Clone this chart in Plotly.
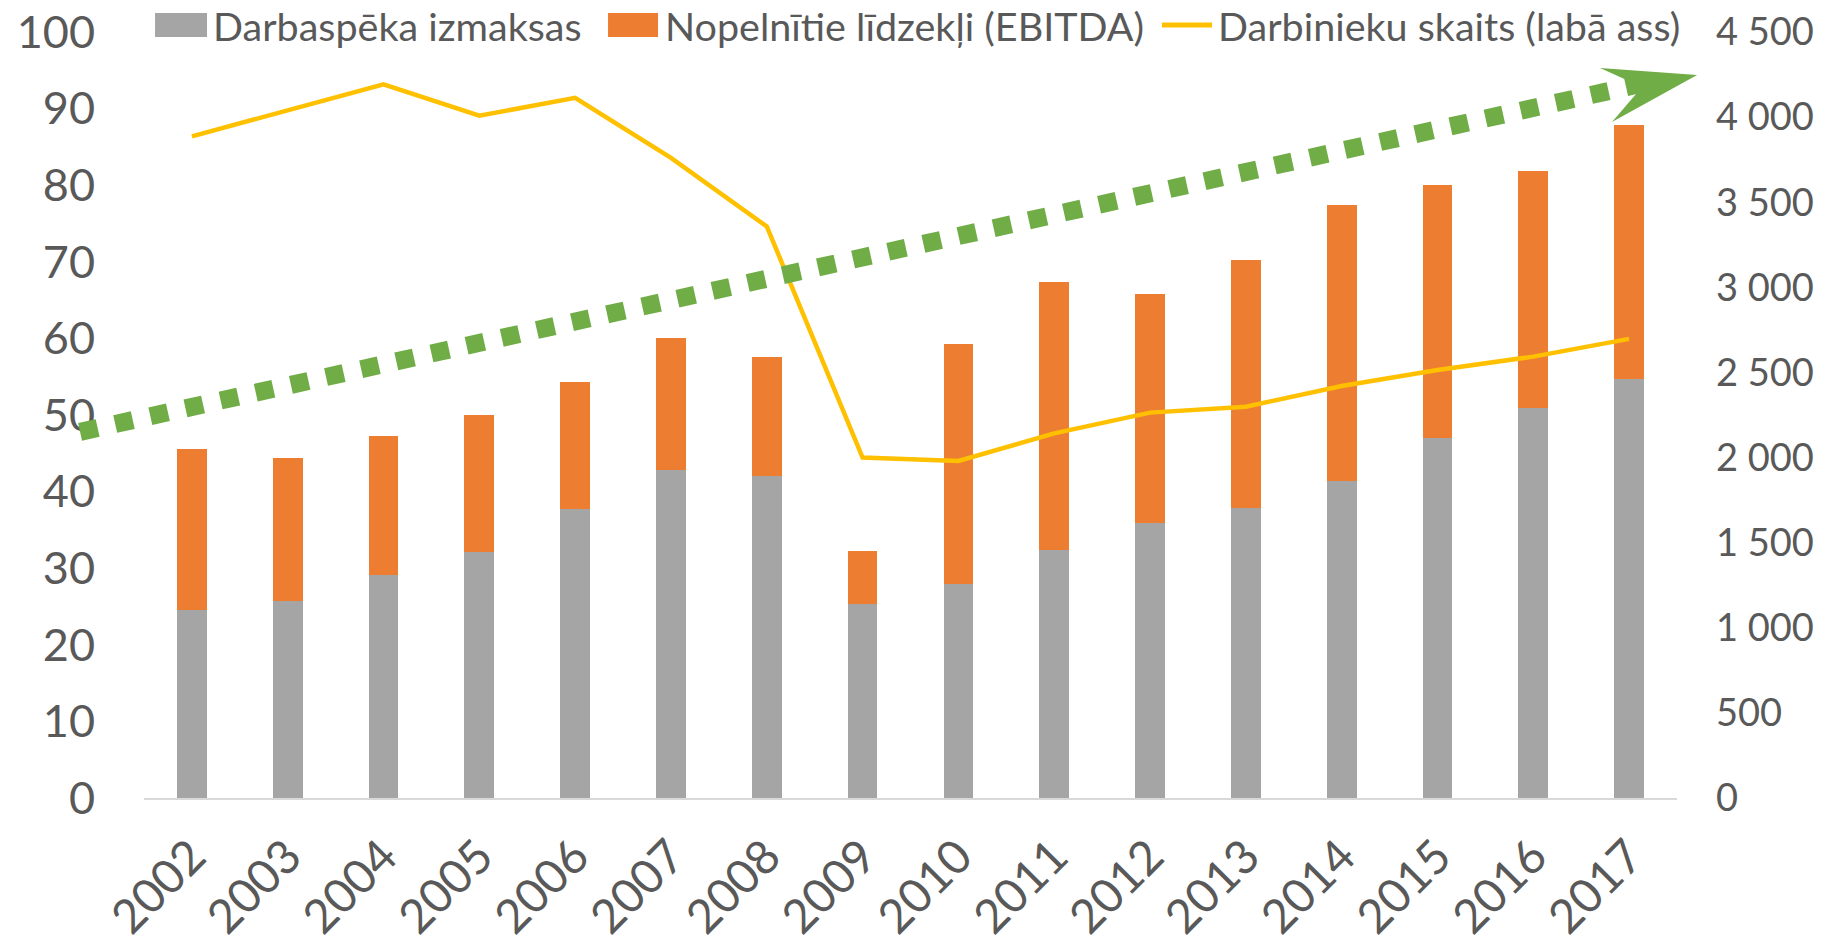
import plotly.graph_objects as go

years = [str(y) for y in range(2002, 2018)]
labor_costs = [24.5, 25.7, 29.1, 32.1, 37.7, 42.8, 42.1, 25.3, 28.0, 32.4, 35.9, 37.9, 41.4, 47.0, 50.9, 54.7]
ebitda = [21.0, 18.7, 18.2, 17.9, 16.6, 17.3, 15.5, 6.9, 31.3, 34.9, 29.9, 32.3, 36.0, 33.0, 31.0, 33.2]
employees = [3887, 4040, 4193, 4008, 4113, 3760, 3358, 2000, 1980, 2142, 2264, 2299, 2420, 2514, 2593, 2697]

left_ticks = list(range(0, 101, 10))
right_ticks = list(range(0, 4501, 500))

names = ["Darbaspēka izmaksas", "Nopelnītie līdzekļi (EBITDA)", "Darbinieku skaits (labā ass)"]

GRAY = "#A5A5A5"
ORANGE = "#ED7D31"
YELLOW = "#FFC000"
GREEN = "#70AD47"
TEXT = "#595959"
FONT = "Lato"

fig = go.Figure()
fig.add_trace(go.Bar(x=years, y=labor_costs, name=names[0], marker=dict(color=GRAY, line=dict(width=0))))
fig.add_trace(go.Bar(x=years, y=ebitda, name=names[1], marker=dict(color=ORANGE, line=dict(width=0))))
fig.add_trace(go.Scatter(x=years, y=employees, name=names[2], mode="lines", yaxis="y2",
                         line=dict(color=YELLOW, width=4.5)))

shapes = []
annotations = []

# trend arrow (decoration, paper coordinates)
arrow_start = (-0.0417, 0.478)
arrow_end = (0.9791, 0.9334)
shapes.append(dict(type="line", xref="paper", yref="paper",
                   x0=arrow_start[0], y0=arrow_start[1], x1=arrow_end[0], y1=arrow_end[1],
                   line=dict(color=GREEN, width=18, dash="dot")))
head = [(1.0131, 0.9439), (0.9498, 0.9530), (0.9772, 0.9282), (0.9576, 0.8825)]
path = "M " + " L ".join(f"{x},{y}" for x, y in head) + " Z"
shapes.append(dict(type="path", xref="paper", yref="paper", path=path,
                   fillcolor=GREEN, line=dict(width=0)))

# legend
ly = 1.0091
shapes.append(dict(type="rect", xref="paper", yref="paper", x0=0.0072, x1=0.0411,
                   y0=ly - 0.0157, y1=ly + 0.0157, fillcolor=GRAY, line=dict(width=0)))
shapes.append(dict(type="rect", xref="paper", yref="paper", x0=0.3027, x1=0.3353,
                   y0=ly - 0.0157, y1=ly + 0.0157, fillcolor=ORANGE, line=dict(width=0)))
shapes.append(dict(type="line", xref="paper", yref="paper", x0=0.664, x1=0.6967,
                   y0=ly, y1=ly, line=dict(color=YELLOW, width=5)))
for x, t in zip([0.0440, 0.3385, 0.6990], names):
    annotations.append(dict(xref="paper", yref="paper", x=x, y=ly, text=t, showarrow=False,
                            xanchor="left", yanchor="middle",
                            font=dict(family=FONT, size=39.5, color=TEXT)))

fig.update_layout(
    width=1827, height=949,
    margin=dict(l=144, r=150, t=32, b=151),
    plot_bgcolor="white", paper_bgcolor="white",
    barmode="stack", bargap=0.69,
    showlegend=False,
    separators=". ",
    font=dict(family=FONT, color=TEXT),
    shapes=shapes, annotations=annotations,
    xaxis=dict(range=[-0.5, 15.5], tickangle=-45, tickfont=dict(size=47, color=TEXT),
               showline=True, linecolor="#D9D9D9", linewidth=2, showgrid=False,
               ticks="", ticklabelstandoff=10, automargin=False),
    yaxis=dict(range=[0, 100], tickvals=left_ticks, tickfont=dict(size=45, color=TEXT),
               showgrid=False, zeroline=False, showline=False, ticks="", ticklabelstandoff=48,
               automargin=False),
    yaxis2=dict(range=[0, 4500], tickvals=right_ticks, tickformat=",d", overlaying="y", side="right",
                tickfont=dict(size=38, color=TEXT), showgrid=False, zeroline=False,
                showline=False, ticks="", ticklabelstandoff=38, automargin=False),
)

fig.write_html("out.html", config={"displayModeBar": False},
               post_script="document.body.style.margin='0';document.body.style.overflow='hidden';")
